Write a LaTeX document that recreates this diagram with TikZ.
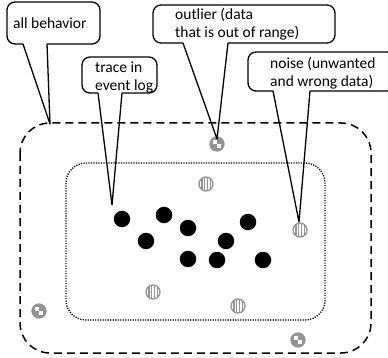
\documentclass[tikz,border=0pt]{standalone}
\usepackage{fontspec}
\setmainfont{Carlito}
\begin{document}
\begin{tikzpicture}[x=1pt,y=-1pt,
  lbl/.style={font=\fontsize{15.5}{18}\selectfont, inner sep=0pt, anchor=base west},
  boxline/.style={line width=1.3pt, rounded corners=8pt},
  tailline/.style={line width=1.3pt, line join=round},
  outerzone/.style={line width=1.5pt, rounded corners=30pt, dash pattern=on 8pt off 5pt},
  innerzone/.style={line width=1.3pt, rounded corners=20pt, dash pattern=on 1.2pt off 1.3pt},
  blackdot/.style={circle, fill=black, minimum size=16.5pt, inner sep=0pt},
  striped/.style={circle, draw=gray!85, line width=1.3pt, fill=white, minimum size=14pt, inner sep=0pt,
    path picture={
      \foreach \dx in {-4.2,-1.4,1.4,4.2}
        \draw[gray!85, line width=1.4pt]
          ([xshift=\dx pt]path picture bounding box.north) --
          ([xshift=\dx pt]path picture bounding box.south);
    }},
  checker/.style={circle, draw=gray!85, line width=1.3pt, fill=gray!85, minimum size=14pt, inner sep=0pt,
    path picture={
      \fill[white] ([xshift=-4pt,yshift=0pt]path picture bounding box.center) rectangle
                   ([xshift=0pt,yshift=4pt]path picture bounding box.center);
      \fill[white] ([xshift=0pt,yshift=-4pt]path picture bounding box.center) rectangle
                   ([xshift=4pt,yshift=0pt]path picture bounding box.center);
    }}
]
\useasboundingbox (0,0) rectangle (388,358);

% zones
\draw[outerzone] (20,123) rectangle (371,353);
\draw[innerzone] (66,163) rectangle (325,320);

% cases in the event log
\foreach \p [count=\i] in {(122,219),(164,215),(188,228),(146,241),(226,241),(248,222),(188,259),(217,260),(263,260)}
  \node[blackdot] (d\i) at \p {};

% noise
\foreach \p [count=\i] in {(300,230),(206,184),(153,292),(238,306)}
  \node[striped] (n\i) at \p {};

% outliers
\foreach \p [count=\i] in {(217,144),(39,311),(298,340)}
  \node[checker] (o\i) at \p {};

% callout: all behavior
\node[lbl] (allB) at (13,29) {all behavior};
\coordinate (allTip) at (50,124);
\draw[boxline] (23,44) -- (7,44) -- (7,2) -- (100,2) -- (100,44) -- (47,44);
\draw[tailline] (23,44) -- (allTip) -- (47,44);

% callout: trace in event log
\node[lbl] (trace) at (95,73) {\begin{tabular}[t]{@{}l@{}}trace in\\event log\end{tabular}};
\coordinate (traceTip) at (112,205);
\draw[boxline] (98,93) -- (82,93) -- (82,57) -- (157,57) -- (157,93) -- (122,93);
\draw[tailline] (98,93) -- (traceTip) -- (122,93);

% callout: outlier
\node[lbl] (outlier) at (175,20) {\begin{tabular}[t]{@{}l@{}}outlier (data\\that is out of range)\end{tabular}};
\coordinate (outTip) at (217,139);
\draw[boxline] (183,43) -- (153,43) -- (153,5) -- (335,5) -- (335,43) -- (228,43);
\draw[tailline] (183,43) -- (outTip) -- (228,43);

% callout: noise
\node[lbl] (noise) at (270,69) {\begin{tabular}[t]{@{}l@{}}noise (unwanted\\and wrong data)\end{tabular}};
\coordinate (noiseTip) at (299,222);
\draw[boxline] (273,91) -- (248,91) -- (248,52) -- (395,52) -- (395,91) -- (310,91);
\draw[tailline] (273,91) -- (noiseTip) -- (310,91);
\end{tikzpicture}
\end{document}
